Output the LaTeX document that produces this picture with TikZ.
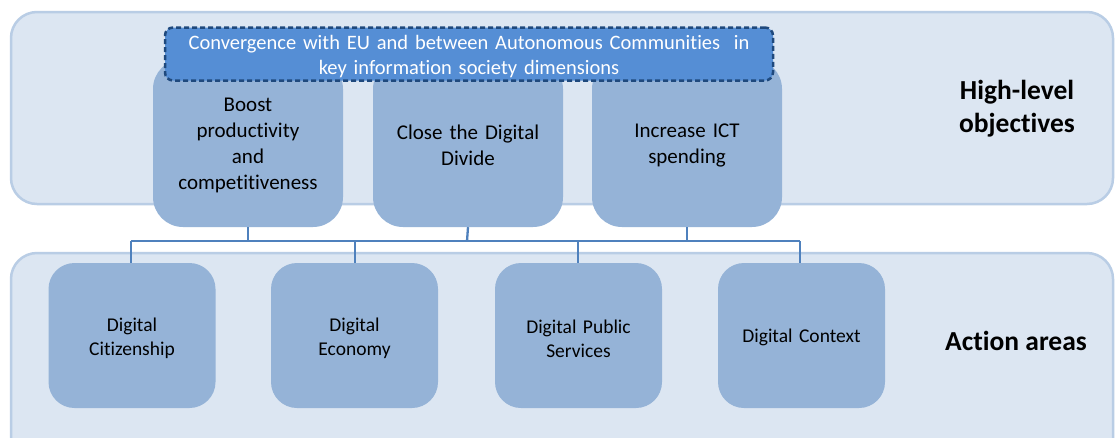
\documentclass[tikz,border=0pt]{standalone}
\usepackage{fontspec}
\setmainfont{Carlito}[RawFeature={-liga;-dlig;-clig}]
\definecolor{bandfill}{HTML}{DCE6F2}
\definecolor{bandline}{HTML}{B9CDE5}
\definecolor{boxfill}{HTML}{95B3D7}
\definecolor{convfill}{HTML}{558ED5}
\definecolor{convline}{HTML}{1F497D}
\definecolor{conn}{HTML}{4F81BD}
\tikzset{
  band/.style={draw=bandline, line width=2.5pt, fill=bandfill, rounded corners=26pt},
  topbox/.style={fill=boxfill, draw=none, rounded corners=30pt, minimum width=190pt, minimum height=168pt, inner sep=0pt},
  botbox/.style={fill=boxfill, draw=none, rounded corners=26pt, minimum width=167pt, minimum height=145pt, inner sep=0pt},
  toptext/.style={align=center, font=\fontsize{21}{26}\selectfont, text width=180pt, inner sep=0pt},
  bottext/.style={align=center, font=\fontsize{19.5}{24}\selectfont, text width=160pt, inner sep=0pt},
  convbox/.style={fill=convfill, draw=convline, dashed, dash pattern=on 5pt off 3pt, line width=2.5pt, rounded corners=8pt, minimum width=608pt, minimum height=53pt, inner sep=0pt},
  convtext/.style={align=center, text=white, font=\fontsize{20.5}{25}\selectfont, text width=600pt, inner sep=0pt},
  side/.style={align=center, font=\bfseries\fontsize{27.5}{33}\selectfont},
  link/.style={draw=conn, line width=2.3pt}
}
\begin{document}
\begin{tikzpicture}[x=1pt,y=-1pt]
\useasboundingbox (0,0) rectangle (1115,437);
\fill[white] (0,0) rectangle (1115,437);
% bands
\draw[band] (11,12) rectangle (1113,204);
\draw[band] (11,253) rectangle (1113,470);
% connector coordinates
\coordinate (h1) at (248,241);
\coordinate (h2) at (467,241);
\coordinate (h3) at (687,241);
\coordinate (b1) at (131,241);
\coordinate (b2) at (355,241);
\coordinate (b3) at (578,241);
\coordinate (b4) at (800,241);
% top boxes
\node[topbox] (boost) at (248,143) {};
\node[topbox] (close) at (468,143) {};
\node[topbox] (ict) at (687,143) {};
\node[toptext] (boostt) at ([yshift=-2.5pt]boost.center) {Boost\\productivity\\and\\competitiveness};
\node[toptext] (closet) at ([yshift=-2.5pt]close.center) {Close the Digital\\Divide};
\node[toptext] (ictt) at ([yshift=-2.5pt]ict.center) {Increase ICT\\spending};
% bottom boxes
\node[botbox] (cit) at (132,335.5) {};
\node[botbox] (eco) at (354.5,335.5) {};
\node[botbox] (pub) at (578.5,335.5) {};
\node[botbox] (ctx) at (801.5,335.5) {};
\node[bottext] (citt) at ([yshift=-3pt]cit.center) {Digital\\Citizenship};
\node[bottext] (ecot) at ([yshift=-3pt]eco.center) {Digital\\Economy};
\node[bottext] (pubt) at ([yshift=-3pt]pub.center) {Digital Public\\Services};
\node[bottext] (ctxt) at ([yshift=-2pt]ctx.center) {Digital Context};
% connectors
\draw[link] (boost.south) -- (h1);
\draw[link] (close.south) -- (h2);
\draw[link] (ict.south) -- (h3);
\draw[link] (b1) -- (b4);
\draw[link] (b1) -- (b1 |- cit.north);
\draw[link] (b2) -- (b2 |- eco.north);
\draw[link] (b3) -- (b3 |- pub.north);
\draw[link] (b4) -- (b4 |- ctx.north);
% convergence box
\node[convbox] (conv) at (469,54) {};
\node[convtext] (convt) at ([yshift=-3pt]conv.center) {Convergence with EU and between Autonomous Communities\ \ in\\key information society dimensions};
% side labels
\node[side] (hlo) at (1017,109) {High-level\\objectives};
\node[side] (aa) at (1016,341) {Action areas};
\end{tikzpicture}
\end{document}
